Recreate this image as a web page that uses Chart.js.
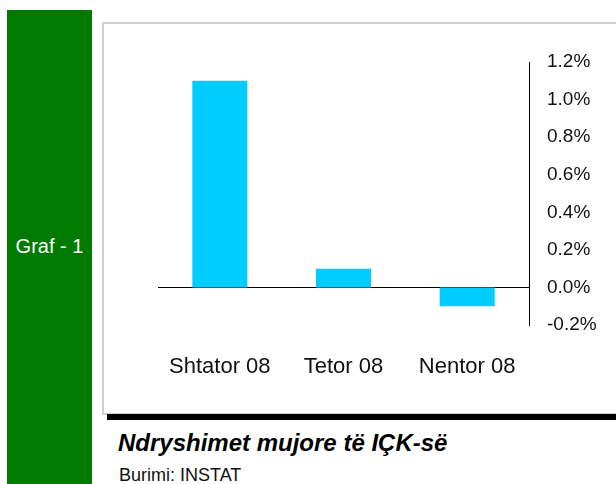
<!DOCTYPE html>
<html>
<head>
<meta charset="utf-8">
<script src="https://cdn.jsdelivr.net/npm/chart.js@4.4.1/dist/chart.umd.min.js"></script>
<style>
  body { margin: 0; width: 616px; height: 484px; position: relative; overflow: hidden; background: #fff; font-family: "Liberation Sans", Arial, sans-serif; }
  #green { position: absolute; left: 7px; top: 10px; width: 85px; height: 474px; background: #007a00; }
  #graf { position: absolute; left: 7px; width: 85px; top: 235px; text-align: center; color: #fff; font-size: 20px; }
  #box { position: absolute; left: 102px; top: 22px; width: 530px; height: 389px; border: 2px solid #cfcfcf; }
  #rule { position: absolute; left: 107px; top: 414px; width: 509px; height: 6px; background: #000; }
  #title { position: absolute; left: 118px; top: 429px; font-size: 24px; font-weight: bold; font-style: italic; color: #000; white-space: nowrap; }
  #source { position: absolute; left: 119px; top: 465px; font-size: 18px; color: #111; white-space: nowrap; }
  #wrap { position: absolute; left: 0; top: 0; width: 616px; height: 484px; }
</style>
</head>
<body>
<div id="green"></div>
<div id="graf">Graf - 1</div>
<div id="box"></div>
<div id="rule"></div>
<div id="title">Ndryshimet mujore të IÇK-së</div>
<div id="source">Burimi: INSTAT</div>
<div id="wrap"><canvas id="chart" width="616" height="484"></canvas></div>
<script>
// months and monthly change of the CPI (%)
const months = ["Shtator 08", "Tetor 08", "Nentor 08"];
const changes = [1.1, 0.1, -0.1];
const yMin = -0.2;
const yMax = 1.2;
const yStep = 0.2;

new Chart(document.getElementById("chart"), {
  type: "bar",
  data: {
    labels: months,
    datasets: [{
      data: changes,
      backgroundColor: "#00ccff",
      borderWidth: 0,
      barPercentage: 0.445,
      categoryPercentage: 1
    }]
  },
  options: {
    responsive: false,
    animation: false,
    layout: { padding: { left: 158, top: 62, right: 0, bottom: 0 } },
    plugins: { legend: { display: false }, tooltip: { enabled: false } },
    scales: {
      x: {
        grid: { display: false },
        border: { display: false },
        ticks: { color: "#111", font: { family: "Liberation Sans", size: 22 }, padding: 21 },
        afterFit: function (scale) { scale.height = 159; }
      },
      y: {
        position: "right",
        min: yMin,
        max: yMax,
        grid: {
          drawTicks: false,
          color: function (ctx) { return ctx.tick && Math.abs(ctx.tick.value) < 1e-9 ? "#000" : "rgba(0,0,0,0)"; },
          lineWidth: 1
        },
        border: { display: true, color: "#000", width: 1 },
        ticks: {
          stepSize: yStep,
          padding: 18,
          color: "#111",
          font: { family: "Liberation Sans", size: 19 },
          callback: function (v) {
            if (Math.abs(v) < 1e-9) v = 0;
            return v.toFixed(1) + "%";
          }
        },
        afterFit: function (scale) { scale.width = 87; }
      }
    }
  }
});
</script>
</body>
</html>
